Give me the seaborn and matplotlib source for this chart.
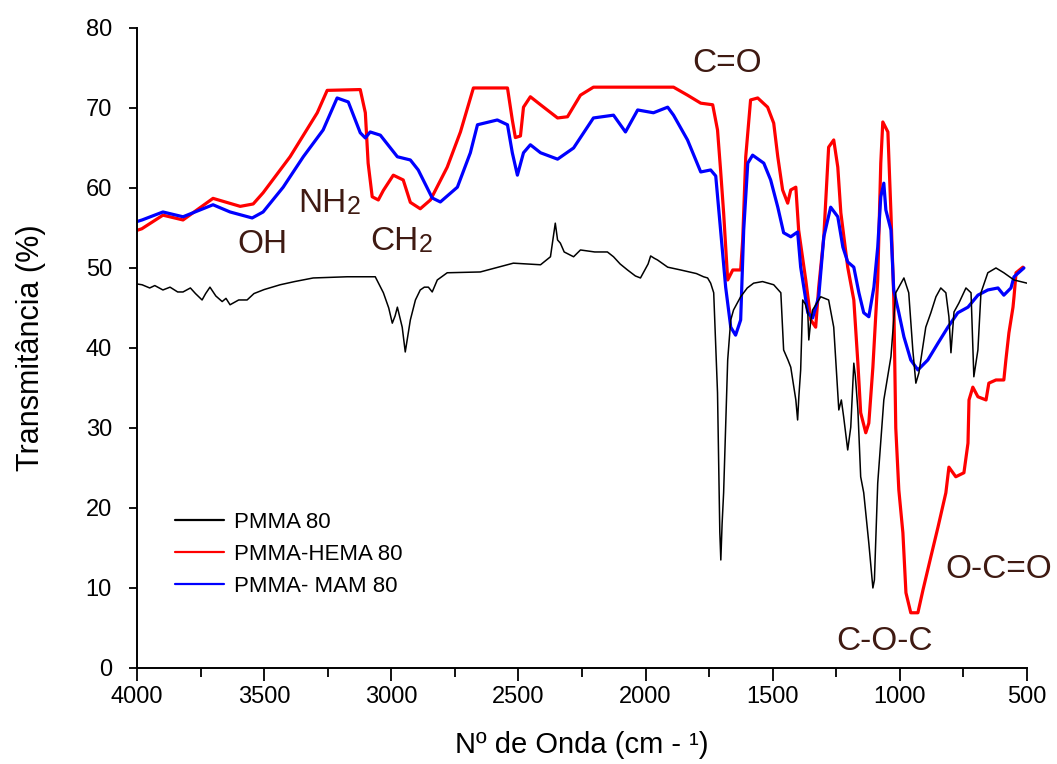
import matplotlib
matplotlib.use("Agg")
import matplotlib.pyplot as plt
import seaborn as sns
import pandas as pd
from matplotlib.lines import Line2D

# ---------------- data ----------------
series_names = ["PMMA 80", "PMMA-HEMA 80", "PMMA- MAM 80"]

pmma_wn = [4000, 3980, 3950, 3930, 3898, 3870, 3840, 3819, 3790, 3770, 3744, 3730, 3713, 3690,
           3665, 3650, 3634, 3600, 3567, 3540, 3500, 3437, 3380, 3307, 3173, 3063, 3031, 3010,
           2996, 2985, 2976, 2957, 2945, 2935, 2925, 2905, 2886, 2870, 2854, 2839, 2819, 2780,
           2650, 2520, 2413, 2374, 2355, 2346, 2335, 2320, 2283, 2256, 2200, 2150, 2126, 2100,
           2071, 2040, 2020, 1990, 1980, 1965, 1953, 1913, 1862, 1800, 1772, 1756, 1744, 1732,
           1717, 1708, 1704, 1699, 1693, 1677, 1665, 1654, 1626, 1600, 1575, 1540, 1496, 1468,
           1457, 1440, 1429, 1409, 1402, 1397, 1390, 1382, 1372, 1362, 1358, 1350, 1343, 1311,
           1280, 1260, 1240, 1230, 1221, 1205, 1193, 1181, 1175, 1165, 1154, 1142, 1122, 1106,
           1100, 1087, 1063, 1035, 1016, 984, 965, 949, 937, 925, 898, 878, 858, 839, 819, 807,
           799, 787, 768, 740, 720, 709, 693, 681, 654, 622, 591, 551, 500]
pmma_t = [48.0, 47.9, 47.5, 47.8, 47.25, 47.6, 47.0, 47.0, 47.5, 46.8, 46.0, 46.8, 47.6, 46.5,
          45.8, 46.2, 45.4, 46.0, 46.0, 46.8, 47.3, 47.9, 48.3, 48.75, 48.9, 48.9, 46.9, 45.0,
          43.1, 44.0, 45.1, 42.6, 39.5, 41.5, 43.5, 46.0, 47.25, 47.6, 47.6, 47.0, 48.5, 49.4,
          49.5, 50.6, 50.4, 51.4, 55.6, 53.5, 53.1, 52.0, 51.4, 52.25, 52.0, 52.0, 51.4, 50.5,
          49.75, 49.0, 48.75, 50.5, 51.5, 51.2, 51.0, 50.1, 49.75, 49.3, 48.9, 48.75, 48.1, 46.9,
          34.4, 17.0, 13.5, 18.0, 21.9, 38.5, 43.5, 44.75, 46.4, 47.5, 48.1, 48.3, 47.9, 46.9,
          39.75, 38.5, 37.6, 33.5, 31.0, 34.0, 37.25, 46.0, 45.5, 44.4, 41.0, 43.5, 44.75, 46.4,
          46.0, 42.6, 32.25, 33.5, 31.4, 27.25, 30.1, 38.1, 36.5, 32.25, 23.9, 21.9, 15.6, 10.0,
          11.0, 23.1, 33.5, 38.9, 46.9, 48.75, 46.9, 39.75, 35.6, 36.9, 42.6, 44.4, 46.4, 47.5,
          46.9, 43.9, 39.4, 44.5, 45.6, 47.5, 46.9, 36.4, 39.75, 46.9, 49.4, 50.0, 49.4, 48.5, 48.1]

hema_wn = [4000, 3981, 3898, 3819, 3701, 3594, 3543, 3504, 3398, 3291, 3252, 3122, 3102, 3091,
           3075, 3051, 3031, 2992, 2953, 2925, 2886, 2846, 2780, 2728, 2677, 2543, 2524, 2512,
           2492, 2480, 2453, 2413, 2346, 2307, 2256, 2205, 1890, 1835, 1783, 1736, 1717, 1705,
           1693, 1677, 1657, 1626, 1618, 1606, 1587, 1559, 1520, 1496, 1480, 1461, 1441, 1429,
           1409, 1398, 1370, 1350, 1331, 1319, 1299, 1280, 1260, 1244, 1232, 1205, 1181, 1165,
           1154, 1134, 1122, 1106, 1087, 1075, 1067, 1047, 1035, 1024, 1016, 1004, 988, 976,
           957, 929, 909, 878, 850, 819, 807, 780, 748, 732, 728, 713, 693, 661, 650, 622, 591,
           583, 571, 555, 551, 543, 516]
hema_t = [54.7, 54.9, 56.6, 56.0, 58.7, 57.7, 58.0, 59.4, 63.9, 69.4, 72.2, 72.3, 69.4, 63.1,
          58.9, 58.5, 59.7, 61.6, 61.0, 58.2, 57.4, 58.5, 62.6, 67.0, 72.5, 72.5, 68.5, 66.3,
          66.5, 70.1, 71.4, 70.4, 68.75, 68.9, 71.6, 72.6, 72.6, 71.6, 70.6, 70.4, 67.25, 62.25,
          56.9, 48.5, 49.75, 49.75, 53.5, 63.9, 71.0, 71.25, 70.1, 68.1, 63.9, 59.75, 58.1, 59.75,
          60.1, 54.75, 48.5, 43.5, 42.6, 47.6, 53.9, 65.1, 66.0, 62.6, 56.9, 50.1, 46.0, 38.1,
          31.9, 29.4, 30.6, 37.6, 48.5, 63.1, 68.25, 67.0, 56.9, 46.4, 30.0, 22.25, 16.9, 9.4,
          6.9, 6.9, 9.75, 13.9, 17.6, 21.9, 25.1, 23.9, 24.4, 28.1, 33.5, 35.1, 33.9, 33.5, 35.6,
          36.0, 36.0, 38.5, 41.9, 45.1, 46.4, 49.4, 50.1]

mam_wn = [4000, 3980, 3898, 3819, 3701, 3634, 3547, 3504, 3425, 3346, 3268, 3213, 3169, 3122,
          3102, 3083, 3043, 2976, 2925, 2894, 2839, 2807, 2740, 2689, 2661, 2583, 2543, 2524,
          2504, 2480, 2453, 2413, 2346, 2283, 2205, 2126, 2079, 2031, 1969, 1913, 1890, 1835,
          1783, 1744, 1724, 1705, 1685, 1665, 1646, 1626, 1614, 1598, 1579, 1535, 1508, 1480,
          1457, 1429, 1402, 1390, 1362, 1343, 1319, 1299, 1272, 1244, 1224, 1205, 1181, 1161,
          1142, 1122, 1102, 1087, 1075, 1063, 1055, 1035, 1024, 1004, 984, 957, 929, 890, 850,
          811, 772, 732, 693, 654, 614, 591, 563, 551, 512]
mam_t = [55.8, 56.0, 57.0, 56.4, 57.9, 57.0, 56.25, 57.0, 60.1, 63.9, 67.25, 71.25, 70.75, 66.9,
         66.25, 67.0, 66.6, 63.9, 63.5, 62.25, 58.75, 58.25, 60.1, 64.4, 67.9, 68.5, 67.9, 64.4,
         61.6, 64.4, 65.4, 64.4, 63.6, 65.0, 68.75, 69.1, 67.0, 69.75, 69.4, 70.1, 69.1, 66.0,
         62.0, 62.25, 61.5, 54.75, 47.6, 42.6, 41.6, 43.5, 54.75, 63.1, 64.1, 63.1, 61.0, 57.6,
         54.4, 53.9, 54.5, 50.1, 44.4, 43.75, 46.4, 53.9, 57.6, 56.4, 52.6, 50.75, 50.1, 46.9,
         44.4, 43.9, 47.6, 52.6, 58.9, 60.6, 57.25, 54.75, 47.25, 44.4, 41.4, 38.5, 37.25, 38.5,
         40.6, 42.6, 44.4, 45.1, 46.6, 47.25, 47.5, 46.6, 47.5, 48.9, 50.0]

x_ticks = [4000, 3500, 3000, 2500, 2000, 1500, 1000, 500]
y_ticks = [0, 10, 20, 30, 40, 50, 60, 70, 80]

band_labels = ["OH", "NH", "CH", "C=O", "C-O-C", "O-C=O"]
band_wn = [3606, 3366, 3083, 1815, 1252, 819]
band_t = [51.9, 57.0, 52.2, 74.5, 2.25, 11.25]

# ---------------- plot ----------------
sns.set_theme(style="ticks")
plt.rcParams["font.family"] = ["Liberation Sans", "DejaVu Sans"]
plt.rcParams["text.color"] = "black"

fig = plt.figure(figsize=(10.57, 7.64), dpi=100)
ax = fig.add_axes([0.1296, 0.1257, 0.8420, 0.8377])

colors = {"PMMA 80": "#000000", "PMMA-HEMA 80": "#ff0000", "PMMA- MAM 80": "#0000ff"}
widths = {"PMMA 80": 1.1, "PMMA-HEMA 80": 2.3, "PMMA- MAM 80": 2.3}
data = {
    "PMMA 80": (pmma_wn, pmma_t),
    "PMMA-HEMA 80": (hema_wn, hema_t),
    "PMMA- MAM 80": (mam_wn, mam_t),
}
for name in ["PMMA-HEMA 80", "PMMA- MAM 80", "PMMA 80"]:
    wn, t = data[name]
    df = pd.DataFrame({"wn": wn, "T": t})
    sns.lineplot(data=df, x="wn", y="T", color=colors[name], linewidth=widths[name],
                 estimator=None, sort=False, ax=ax, legend=False)

ax.set_xlim(4000, 500)
ax.set_ylim(0, 80)
ax.set_xticks(x_ticks)
ax.set_xticks([v + 250 for v in x_ticks[1:]], minor=True)
ax.set_yticks(y_ticks)
ax.set_xticklabels([str(v) for v in x_ticks])
ax.set_yticklabels([str(v) for v in y_ticks])

for s in ["top", "right"]:
    ax.spines[s].set_visible(False)
for s in ["left", "bottom"]:
    ax.spines[s].set_linewidth(1.4)
    ax.spines[s].set_color("black")

ax.tick_params(axis="x", which="major", direction="out", length=9, width=1.3,
               labelsize=17, pad=4, colors="black")
ax.tick_params(axis="x", which="minor", direction="out", length=6.5, width=1.3,
               bottom=True, colors="black")
ax.tick_params(axis="y", which="major", direction="out", length=6, width=1.3,
               labelsize=17, pad=12, colors="black")

ax.set_xlabel("Nº de Onda (cm - ¹)", fontsize=21, color="black")
ax.set_ylabel("Transmitância (%)", fontsize=22, color="black")
ax.xaxis.set_label_coords(0.5, -0.098)
ax.yaxis.set_label_coords(-0.102, 0.5)

# band annotations
txt_color = "#3f1a12"
for lab, xw, yt in zip(band_labels, band_wn, band_t):
    t = ax.text(xw, yt, lab, fontsize=24, color=txt_color, ha="left", va="baseline",
                clip_on=False)
    if lab in ("NH", "CH"):
        ax.annotate("2", xy=(1.0, 0.0), xycoords=t, fontsize=18, color=txt_color,
                    ha="left", va="bottom", annotation_clip=False)

# legend
handles = [Line2D([], [], color=colors[n], linewidth=1.6) for n in series_names]
ax.legend(handles, series_names, loc="upper left", bbox_to_anchor=(0.043, 0.244),
          frameon=False, fontsize=16, handlelength=2.2, handletextpad=0.45,
          labelspacing=0.5, borderpad=0, borderaxespad=0, labelcolor="black")

fig.savefig("out.png", dpi=100)
